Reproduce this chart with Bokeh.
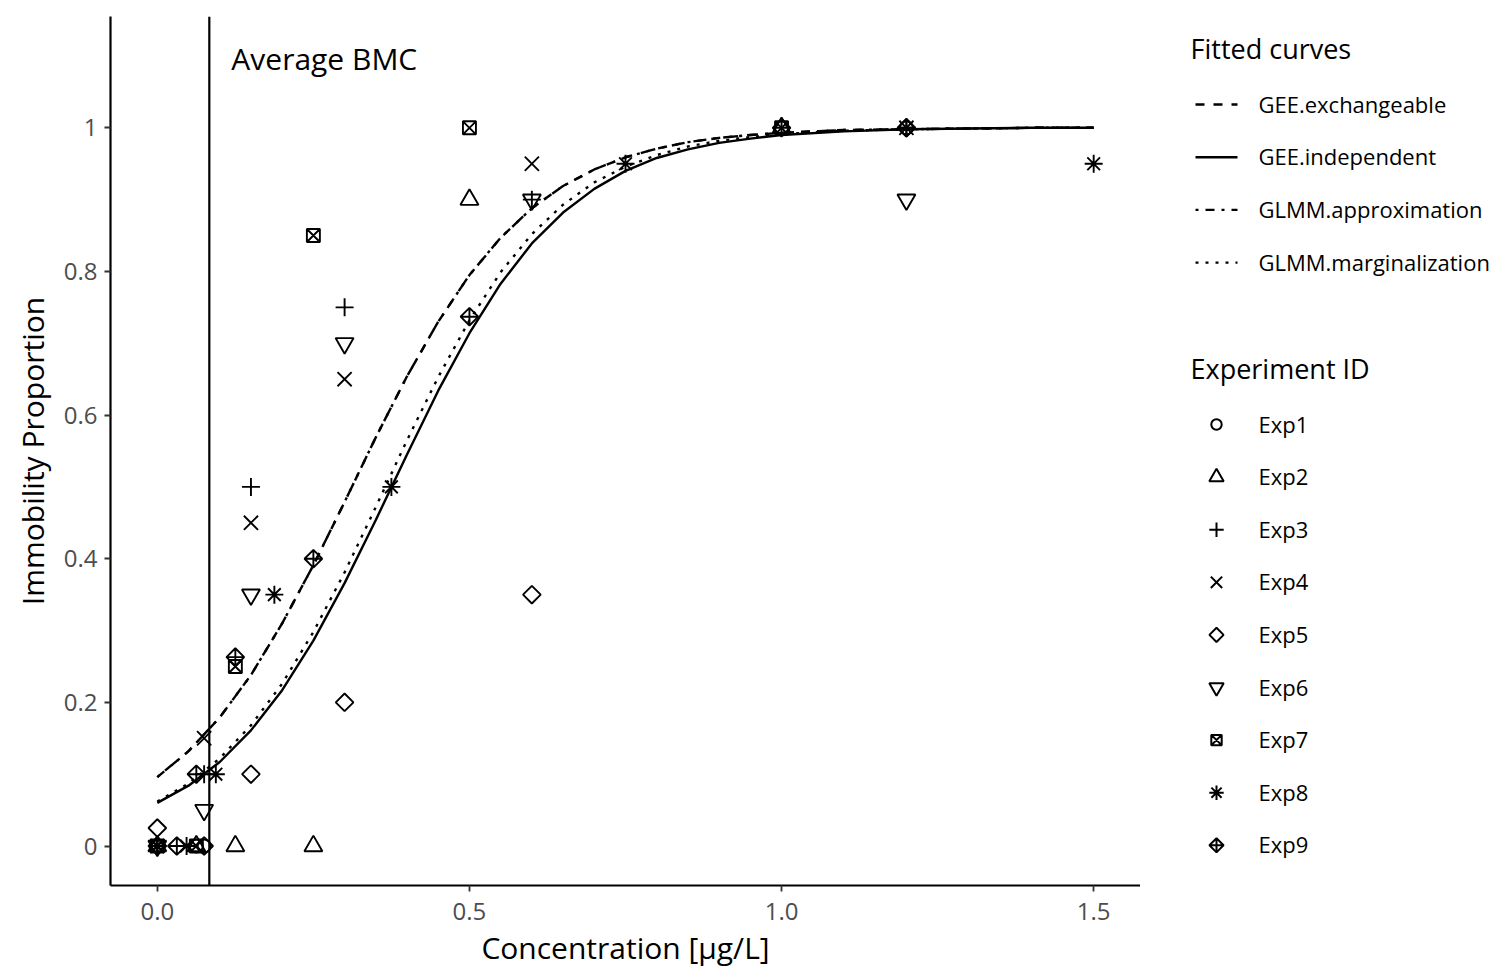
import math
from bokeh.plotting import figure
from bokeh.models import Range1d, FixedTicker, Span
from bokeh.layouts import row
from bokeh.core.properties import value
from bokeh.embed import file_html
from bokeh.resources import INLINE

FONT = "Open Sans"

# ---------------- data ----------------
curve_x = [0, 0.05, 0.1, 0.15, 0.2, 0.25, 0.3, 0.35, 0.4, 0.45, 0.5, 0.55, 0.6, 0.65, 0.7,
           0.75, 0.8, 0.85, 0.9, 0.95, 1.0, 1.1, 1.2, 1.3, 1.4, 1.5]
gee_exchangeable = [0.096, 0.132, 0.179, 0.238, 0.310, 0.391, 0.479, 0.569, 0.654, 0.730,
                    0.795, 0.847, 0.888, 0.919, 0.942, 0.959, 0.971, 0.980, 0.986, 0.990,
                    0.993, 0.997, 0.998, 0.999, 1.000, 1.000]
gee_independent = [0.060, 0.084, 0.117, 0.161, 0.217, 0.286, 0.366, 0.454, 0.545, 0.634,
                   0.714, 0.783, 0.839, 0.882, 0.915, 0.940, 0.958, 0.970, 0.979, 0.985,
                   0.990, 0.995, 0.998, 0.999, 1.000, 1.000]
glmm_approximation = [0.096, 0.132, 0.179, 0.238, 0.310, 0.391, 0.479, 0.569, 0.654, 0.730,
                      0.795, 0.847, 0.888, 0.919, 0.942, 0.959, 0.971, 0.980, 0.986, 0.990,
                      0.993, 0.997, 0.998, 0.999, 1.000, 1.000]
glmm_marginalization = [0.062, 0.087, 0.122, 0.168, 0.226, 0.298, 0.381, 0.472, 0.565, 0.653,
                        0.732, 0.799, 0.852, 0.893, 0.924, 0.946, 0.962, 0.974, 0.982, 0.987,
                        0.991, 0.996, 0.998, 0.999, 1.000, 1.000]

curve_names = ["GEE.exchangeable", "GEE.independent", "GLMM.approximation", "GLMM.marginalization"]

exp1_x = [0, 0.0625, 0.075, 1.0, 1.2]
exp1_y = [0, 0, 0, 1.0, 1.0]
exp2_x = [0, 0.0625, 0.125, 0.25, 0.5, 1.0]
exp2_y = [0, 0, 0, 0, 0.9, 1.0]
exp3_x = [0, 0.075, 0.15, 0.3, 0.6, 1.2]
exp3_y = [0, 0.1, 0.5, 0.75, 0.9, 1.0]
exp4_x = [0, 0.075, 0.15, 0.3, 0.6, 1.2]
exp4_y = [0, 0.15, 0.45, 0.65, 0.95, 1.0]
exp5_x = [0, 0.075, 0.15, 0.3, 0.6, 1.2]
exp5_y = [0.025, 0, 0.1, 0.2, 0.35, 1.0]
exp6_x = [0, 0.075, 0.15, 0.3, 0.6, 1.2]
exp6_y = [0, 0.05, 0.35, 0.7, 0.9, 0.9]
exp7_x = [0, 0.0625, 0.125, 0.25, 0.5, 1.0]
exp7_y = [0, 0, 0.25, 0.85, 1.0, 1.0]
exp8_x = [0, 0.046875, 0.09375, 0.1875, 0.375, 0.75, 1.5]
exp8_y = [0, 0, 0.1, 0.35, 0.5, 0.95, 0.95]
exp9_x = [0, 0.03125, 0.0625, 0.125, 0.25, 0.5, 1.0, 1.2]
exp9_y = [0, 0, 0.1, 0.263, 0.4, 0.737, 1.0, 1.0]

exp_names = ["Exp1", "Exp2", "Exp3", "Exp4", "Exp5", "Exp6", "Exp7", "Exp8", "Exp9"]
average_bmc = 0.0833

x_ticks = [0, 0.5, 1.0, 1.5]
x_tick_labels = ["0.0", "0.5", "1.0", "1.5"]
y_ticks = [0, 0.2, 0.4, 0.6, 0.8, 1.0]
y_tick_labels = ["0", "0.2", "0.4", "0.6", "0.8", "1"]

# ---------------- styles ----------------
curve_dash = {"GEE.exchangeable": "9 9", "GEE.independent": "solid",
              "GLMM.approximation": "3 7 9 7", "GLMM.marginalization": "3 7"}
curve_data = {"GEE.exchangeable": gee_exchangeable, "GEE.independent": gee_independent,
              "GLMM.approximation": glmm_approximation, "GLMM.marginalization": glmm_marginalization}
Q = math.pi / 4
# marker, size, angle
exp_style = [("circle", 13, 0), ("triangle", 18, 0), ("cross", 18, 0), ("x", 20, 0),
             ("square", 12.5, Q), ("inverted_triangle", 18, 0), ("square_x", 13, 0),
             ("asterisk", 18, 0), ("square_x", 12.5, Q)]
exp_data = [(exp1_x, exp1_y), (exp2_x, exp2_y), (exp3_x, exp3_y), (exp4_x, exp4_y),
            (exp5_x, exp5_y), (exp6_x, exp6_y), (exp7_x, exp7_y), (exp8_x, exp8_y),
            (exp9_x, exp9_y)]

H = 970
p = figure(width=1140, height=H, x_range=Range1d(-0.075, 1.575), y_range=Range1d(-0.055, 1.155),
           toolbar_location=None, output_backend="svg",
           min_border_left=110, min_border_right=0, min_border_top=16, min_border_bottom=85)
p.outline_line_color = None
p.xgrid.visible = False
p.ygrid.visible = False
p.background_fill_color = "white"
p.border_fill_color = "white"

for ax in (p.xaxis[0], p.yaxis[0]):
    ax.axis_line_color = "black"
    ax.axis_line_width = 2.2
    ax.major_tick_line_color = "#333333"
    ax.major_tick_line_width = 1.8
    ax.major_tick_out = 6
    ax.major_tick_in = 0
    ax.minor_tick_line_color = None
    ax.major_label_text_color = "#4D4D4D"
    ax.major_label_text_font = FONT
    ax.major_label_text_font_size = "24px"
    ax.axis_label_text_font = FONT
    ax.axis_label_text_font_size = "30px"
    ax.axis_label_text_font_style = "normal"
    ax.axis_label_text_color = "black"

p.xaxis.ticker = FixedTicker(ticks=x_ticks)
p.xaxis.major_label_overrides = dict(zip(x_ticks, x_tick_labels))
p.yaxis.ticker = FixedTicker(ticks=y_ticks)
p.yaxis.major_label_overrides = dict(zip(y_ticks, y_tick_labels))
p.xaxis.axis_label = "Concentration [µg/L]"
p.yaxis.axis_label = "Immobility Proportion"
p.xaxis.major_label_standoff = 11
p.xaxis.axis_label_standoff = 4
p.yaxis.major_label_standoff = 7
p.yaxis.axis_label_standoff = 8

p.add_layout(Span(location=average_bmc, dimension="height", line_color="black", line_width=2.2))
p.text(x=[0.1186], y=[1.097], text=["Average BMC"], text_font=value(FONT),
       text_font_size="30px", text_baseline="middle", text_align="left", text_color="black")

for name in ["GLMM.approximation", "GLMM.marginalization", "GEE.exchangeable", "GEE.independent"]:
    p.line(curve_x, curve_data[name], line_color="black", line_width=2.4,
           line_dash=curve_dash[name])

for (xs, ys), (mk, sz, ang) in zip(exp_data, exp_style):
    p.scatter(xs, ys, marker=mk, size=sz, angle=ang, fill_color=None, line_color="black",
              line_width=1.9)

# ---------------- legend panel (coordinates in page pixels) ----------------
q = figure(width=352, height=H, x_range=Range1d(0, 352), y_range=Range1d(885, 16),
           toolbar_location=None, output_backend="svg", min_border=0)
q.axis.visible = False
q.xgrid.visible = False
q.ygrid.visible = False
q.outline_line_color = None

q.text(x=[50], y=[48], text=["Fitted curves"], text_font=value(FONT), text_font_size="27px",
       text_baseline="middle", text_align="left", text_color="black")
for i, name in enumerate(curve_names):
    yy = 104 + i * 52.7
    q.line([55, 97], [yy, yy], line_color="black", line_width=2.4, line_dash=curve_dash[name])
    q.text(x=[118], y=[yy - 1], text=[name], text_font=value(FONT), text_font_size="22px",
           text_baseline="middle", text_align="left", text_color="black")

q.text(x=[50], y=[368], text=["Experiment ID"], text_font=value(FONT), text_font_size="27px",
       text_baseline="middle", text_align="left", text_color="black")
for i, (name, (mk, sz, ang)) in enumerate(zip(exp_names, exp_style)):
    yy = 424 + i * 52.6
    q.scatter([76], [yy], marker=mk, size=sz * 0.8, angle=ang, fill_color=None,
              line_color="black", line_width=2.0)
    q.text(x=[118], y=[yy - 1], text=[name], text_font=value(FONT), text_font_size="22px",
           text_baseline="middle", text_align="left", text_color="black")

layout = row(p, q)
open("out.html", "w").write(file_html(layout, INLINE))
